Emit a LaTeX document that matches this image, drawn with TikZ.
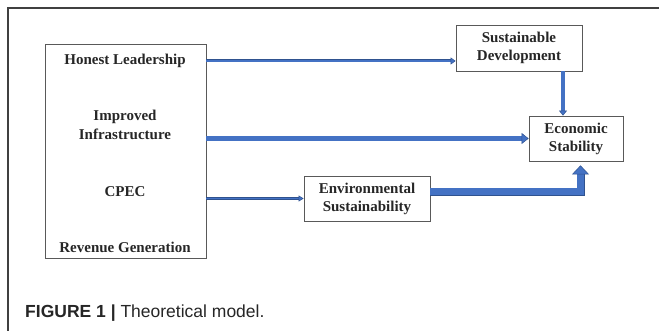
\documentclass[tikz,border=0pt]{standalone}
\usepackage{fontspec}
\setmainfont{Liberation Serif}
\setsansfont{Liberation Sans}
\usetikzlibrary{arrows.meta,positioning}
\definecolor{arrowfill}{HTML}{4472C4}
\definecolor{arrowedge}{HTML}{2F528F}
\definecolor{boxline}{HTML}{595959}
\definecolor{frameline}{HTML}{404040}
\definecolor{inktext}{HTML}{262626}

\begin{document}
\begin{tikzpicture}[x=1pt, y=-1pt,
    box/.style={draw=boxline, line width=0.8pt, align=center, inner sep=0pt, text=inktext,
        font=\fontsize{15}{18}\selectfont\bfseries},
    label/.style={align=center, inner sep=0pt, text=inktext, font=\fontsize{15}{19}\selectfont\bfseries},
    flow/.style={draw=arrowedge, double=arrowfill, double distance=#1, line width=0.5pt}]
        \useasboundingbox (0,0) rectangle (659,331);

        % Frame
        \draw[frameline, line width=1.2pt] (8,331) -- (8,8) -- (659,8);

        % Left block
        \node[box, minimum width=161pt, minimum height=214pt] (drivers) at (125.5,151) {};
        \node[label] (lead) at (125,61) {Honest Leadership};
        \node[label] (infra) at (125,125) {Improved\\Infrastructure};
        \node[label] (cpec) at (125,192) {CPEC};
        \node[label] (revenue) at (125,247) {Revenue Generation};

        % Outcome boxes
        \node[box, minimum width=126pt, minimum height=46pt] (sd) at (519,48) {Sustainable\\Development};
        \node[box, minimum width=94pt, minimum height=45pt] (es) at (576,138.5) {Economic\\Stability};
        \node[box, minimum width=126pt, minimum height=45pt] (env) at (367,198.5) {Environmental\\Sustainability};

        % Arrows
        \draw[flow=2pt, -{Triangle[length=5pt, width=7pt, fill=arrowfill, color=arrowedge]}]
            (drivers.east |- lead) -- (sd.west |- lead);
        \draw[flow=4.5pt, -{Triangle[length=7pt, width=11pt, fill=arrowfill, color=arrowedge]}]
            (drivers.east |- es.west) -- (es.west);
        \draw[flow=1.5pt, -{Triangle[length=5pt, width=6pt, fill=arrowfill, color=arrowedge]}]
            (drivers.east |- env.west) -- (env.west);
        \draw[flow=3.5pt, -{Triangle[length=5pt, width=8pt, fill=arrowfill, color=arrowedge]}]
            ([xshift=44pt]sd.south) -- ([xshift=44pt]sd.south |- es.north);
        \draw[flow=7pt, shorten >=4pt, -{Triangle[length=9pt, width=17pt, fill=arrowfill, color=arrowedge]}]
            ([yshift=6.5pt]env.east) -| ([xshift=4.5pt]es.south);

        % Caption
        \node[anchor=west, inner sep=0pt, text=inktext, font=\fontsize{17.5}{20}\selectfont\sffamily] (caption) at (25,313)
            {\textbf{FIGURE 1 |} Theoretical model.};
\end{tikzpicture}
\end{document}
